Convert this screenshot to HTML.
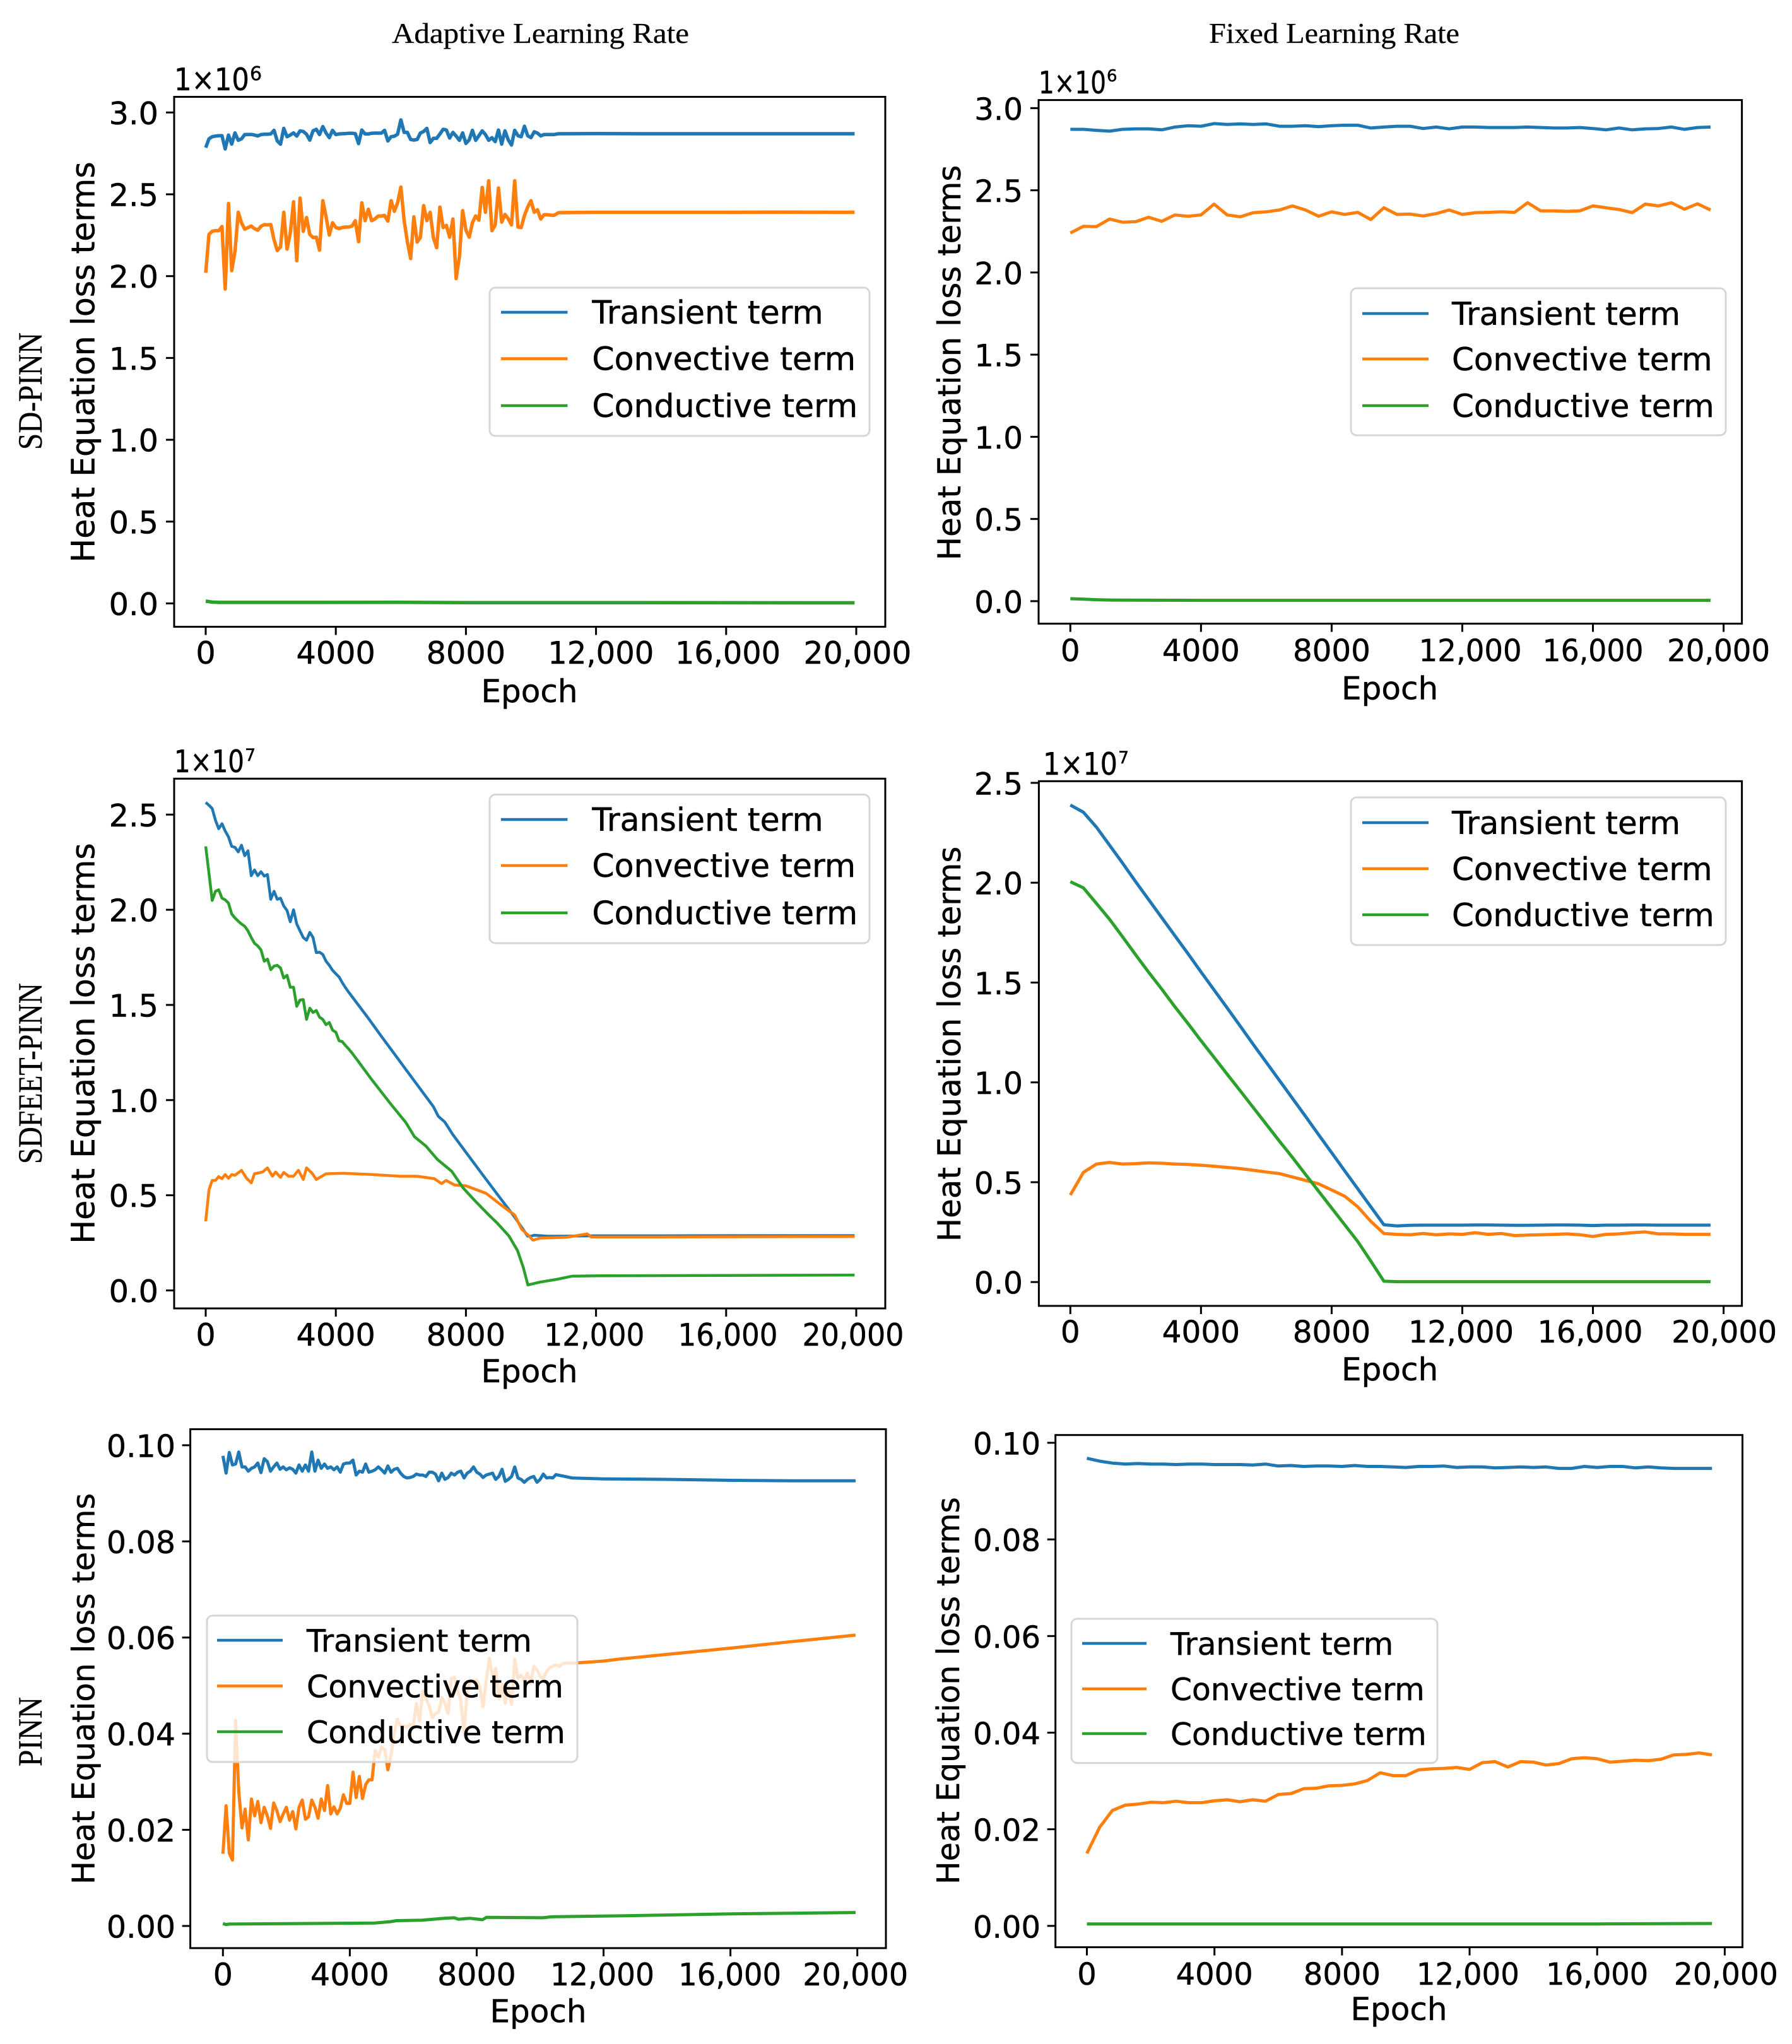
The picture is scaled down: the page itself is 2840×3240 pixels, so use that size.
<!DOCTYPE html>
<html lang="en">
<head>
<meta charset="utf-8">
<title>Heat equation loss terms</title>
<style>
html,body{margin:0;padding:0;background:#fff}
svg{display:block}
text{font-family:"DejaVu Sans",sans-serif;fill:#000;stroke:#000;stroke-width:.5px}
.serif{font-family:"Liberation Serif",serif;stroke-width:.3px}
</style>
</head>
<body>
<svg id="figure" xmlns="http://www.w3.org/2000/svg" width="2840" height="3240" viewBox="0 0 2840 3240">
<rect width="2840" height="3240" fill="#fff"/>
<text class="serif" x="621" y="68" font-size="46" textLength="471" lengthAdjust="spacingAndGlyphs">Adaptive Learning Rate</text>
<text class="serif" x="1916" y="68" font-size="46" textLength="397" lengthAdjust="spacingAndGlyphs">Fixed Learning Rate</text>
<text class="serif" transform="translate(66,713) rotate(-90)" font-size="54" textLength="186" lengthAdjust="spacingAndGlyphs">SD-PINN</text>
<text class="serif" transform="translate(66,1845) rotate(-90)" font-size="54" textLength="287" lengthAdjust="spacingAndGlyphs">SDFEET-PINN</text>
<text class="serif" transform="translate(66,2800) rotate(-90)" font-size="54" textLength="110" lengthAdjust="spacingAndGlyphs">PINN</text>
</svg>
<script>
// ---------- shared categories and tick labels ----------
const gridEpochs = [0,100,200,300,400,500,600,700,800,900,1000,1100,1200,1300,1400,1500,1600,1700,1800,1900,2000,2100,2200,2300,2400,2500,2600,2700,2800,2900,3000,3100,3200,3300,3400,3500,3600,3700,3800,3900,4000,4100,4200,4300,4400,4500,4600,4700,4800,4900,5000,5100,5200,5300,5400,5500,5600,5700,5800,5900,6000,6100,6200,6300,6400,6500,6600,6700,6800,6900,7000,7100,7200,7300,7400,7500,7600,7700,7800,7900,8000,8100,8200,8300,8400,8500,8600,8700,8800,8900,9000,9100,9200,9300,9400,9500,9600,9700,9800,9900,10000,10100,10200,10300,10400,10500,10600,10700,10800,10900,11000,11100];
const fixedEpochs = [0,400,800,1200,1600,2000,2400,2800,3200,3600,4000,4400,4800,5200,5600,6000,6400,6800,7200,7600,8000,8400,8800,9200,9600,10000,10400,10800,11200,11600,12000,12400,12800,13200,13600,14000,14400,14800,15200,15600,16000,16400,16800,17200,17600,18000,18400,18800,19200,19600];
const xTickValues = [0,4000,8000,12000,16000,20000];
const xTickLabels = ["0","4000","8000","12,000","16,000","20,000"];
const yTicksThree = [0,0.5,1,1.5,2,2.5,3];
const yTickLabelsThree = ["0.0","0.5","1.0","1.5","2.0","2.5","3.0"];
const yTicksTwoFive = [0,0.5,1,1.5,2,2.5];
const yTickLabelsTwoFive = ["0.0","0.5","1.0","1.5","2.0","2.5"];
const yTicksSmall = [0,0.02,0.04,0.06,0.08,0.10];
const yTickLabelsSmall = ["0.00","0.02","0.04","0.06","0.08","0.10"];
const seriesNames = ["Transient term","Convective term","Conductive term"];
const seriesColors = ["#1f77b4","#ff7f0e","#2ca02c"];

// ---------- SD-PINN, adaptive (units of 1e6) ----------
const sdAdaptiveTransient = [2.785,2.839,2.852,2.856,2.858,2.858,2.777,2.862,2.807,2.875,2.830,2.839,2.865,2.865,2.866,2.862,2.857,2.865,2.867,2.867,2.869,2.891,2.826,2.806,2.903,2.852,2.862,2.875,2.856,2.888,2.884,2.867,2.831,2.888,2.897,2.865,2.914,2.875,2.846,2.891,2.865,2.869,2.870,2.871,2.873,2.873,2.870,2.810,2.893,2.869,2.869,2.873,2.874,2.874,2.874,2.891,2.826,2.852,2.855,2.867,2.955,2.878,2.878,2.835,2.831,2.835,2.874,2.884,2.903,2.816,2.842,2.842,2.869,2.897,2.893,2.844,2.878,2.856,2.830,2.875,2.811,2.833,2.891,2.830,2.858,2.888,2.865,2.830,2.846,2.822,2.893,2.807,2.888,2.833,2.801,2.891,2.858,2.852,2.916,2.858,2.846,2.882,2.874,2.857,2.865];
const sdAdaptiveTransientLateEpochs = [10700,10850,12000,14000,16000,18000,19950];
const sdAdaptiveTransientLate = [2.865,2.870,2.871,2.870,2.870,2.870,2.870];
const sdAdaptiveConvective = [2.020,2.255,2.274,2.278,2.277,2.303,1.921,2.444,2.033,2.152,2.390,2.326,2.287,2.297,2.306,2.290,2.281,2.304,2.315,2.313,2.315,2.223,2.156,2.178,2.390,2.165,2.262,2.454,2.094,2.477,2.274,2.358,2.255,2.236,2.238,2.159,2.461,2.364,2.251,2.326,2.297,2.291,2.297,2.300,2.300,2.306,2.339,2.210,2.448,2.339,2.409,2.339,2.349,2.367,2.367,2.371,2.336,2.461,2.396,2.448,2.544,2.339,2.210,2.107,2.362,2.208,2.236,2.431,2.339,2.390,2.236,2.174,2.422,2.297,2.310,2.238,2.349,1.985,2.120,2.400,2.281,2.238,2.326,2.368,2.342,2.542,2.390,2.583,2.277,2.313,2.538,2.330,2.377,2.351,2.313,2.583,2.300,2.297,2.371,2.422,2.461,2.390,2.405,2.349,2.375,2.375];
const sdAdaptiveConvectiveLateEpochs = [10700,10850,12000,14000,16000,18000,19950];
const sdAdaptiveConvectiveLate = [2.371,2.388,2.390,2.390,2.390,2.391,2.390];
const sdAdaptiveConductiveEpochs = [0,200,400,2000,6000,8000,12000,19950];
const sdAdaptiveConductive = [0.014,0.008,0.006,0.006,0.007,0.005,0.005,0.004];

// ---------- SD-PINN, fixed (units of 1e6) ----------
const sdFixedTransient = [2.871,2.871,2.865,2.860,2.871,2.874,2.874,2.868,2.885,2.893,2.890,2.906,2.901,2.904,2.901,2.904,2.890,2.890,2.893,2.887,2.893,2.896,2.896,2.879,2.885,2.890,2.890,2.876,2.885,2.874,2.885,2.885,2.882,2.882,2.882,2.885,2.882,2.879,2.879,2.882,2.876,2.868,2.879,2.868,2.874,2.876,2.885,2.871,2.882,2.885];
const sdFixedConvective = [2.240,2.281,2.279,2.325,2.306,2.309,2.336,2.311,2.350,2.342,2.350,2.416,2.350,2.339,2.364,2.369,2.380,2.405,2.380,2.342,2.369,2.353,2.366,2.322,2.394,2.353,2.355,2.344,2.358,2.380,2.353,2.364,2.366,2.369,2.366,2.424,2.375,2.375,2.372,2.375,2.405,2.394,2.383,2.364,2.416,2.405,2.424,2.385,2.418,2.380];
const sdFixedConductiveEpochs = [0,400,800,1200,1600,4000,19600];
const sdFixedConductive = [0.015,0.012,0.009,0.007,0.006,0.005,0.005];

// ---------- SDFEET-PINN, adaptive (units of 1e7) ----------
const feetAdaptiveTransient = [2.564,2.549,2.532,2.470,2.426,2.452,2.414,2.383,2.333,2.328,2.304,2.339,2.284,2.310,2.179,2.209,2.179,2.200,2.177,2.185,2.055,2.097,2.055,2.061,2.020,1.996,1.937,2.000,1.925,1.889,1.854,1.840,1.881,1.854,1.775,1.777,1.765,1.730,1.708,1.682,1.664,1.647,1.617,1.590,1.566];
const feetAdaptiveTransientLateEpochs = [4600,5000,5400,5800,6200,6600,7000,7150,7350,7600,8000,8400,8800,9200,9500,9700,9900,10000,10100,10500,11000,12000,14000,16000,18000,19950];
const feetAdaptiveTransientLate = [1.521,1.430,1.335,1.243,1.150,1.058,0.966,0.915,0.885,0.818,0.726,0.634,0.543,0.452,0.385,0.335,0.285,0.285,0.290,0.285,0.285,0.287,0.287,0.288,0.288,0.288];
const feetAdaptiveConvectiveEpochs = [0,100,200,300,400,500,600,700,800,900,1100,1250,1400,1500,1750,1900,2050,2150,2300,2400,2550,2700,2850,3000,3100,3270,3400,3700,4220,5100,5980,6500,7030,7250,7390,7650,8000,8620,9150,9500,9710,9940,10060,10290,11080,11730,11850,14000,19950];
const feetAdaptiveConvective = [0.363,0.528,0.578,0.578,0.598,0.587,0.609,0.589,0.609,0.605,0.631,0.591,0.565,0.613,0.622,0.644,0.600,0.622,0.594,0.620,0.600,0.600,0.631,0.583,0.644,0.616,0.583,0.613,0.616,0.609,0.600,0.600,0.587,0.561,0.578,0.554,0.550,0.510,0.440,0.396,0.323,0.286,0.264,0.275,0.279,0.297,0.281,0.281,0.283];
const feetAdaptiveConductive = [2.333,2.191,2.049,2.097,2.105,2.061,2.052,2.035,1.978,1.957,1.940,1.925,1.913,1.889,1.854,1.824,1.810,1.789,1.730,1.741,1.685,1.704,1.708,1.694,1.641,1.656,1.593,1.593,1.493,1.526,1.528,1.424,1.483,1.460,1.471,1.436,1.424,1.396,1.408,1.368,1.357,1.312,1.307,1.286,1.268,1.247];
const feetAdaptiveConductiveLateEpochs = [4640,5050,5640,6150,6420,6772,7124,7564,7916,8267,8707,8971,9323,9587,9763,9904,10290,10818,11258,12137,19950];
const feetAdaptiveConductiveLate = [1.215,1.120,0.990,0.883,0.807,0.758,0.688,0.626,0.538,0.473,0.396,0.352,0.286,0.209,0.121,0.029,0.044,0.059,0.075,0.077,0.081];

// ---------- SDFEET-PINN, fixed (units of 1e7) ----------
const feetFixedTransient = [2.389,2.353,2.278,2.188,2.098,2.005,1.915,1.825,1.735,1.645,1.553,1.463,1.373,1.282,1.190,1.100,1.010,0.920,0.830,0.738,0.648,0.557,0.467,0.377,0.287,0.281,0.284,0.285,0.285,0.285,0.285,0.286,0.286,0.285,0.284,0.284,0.285,0.286,0.286,0.285,0.283,0.285,0.285,0.286,0.286,0.285,0.285,0.285,0.285,0.285];
const feetFixedConvective = [0.436,0.549,0.591,0.599,0.591,0.593,0.597,0.595,0.591,0.589,0.585,0.580,0.574,0.568,0.560,0.551,0.543,0.526,0.509,0.492,0.461,0.430,0.377,0.304,0.243,0.239,0.237,0.243,0.237,0.241,0.239,0.247,0.239,0.243,0.233,0.235,0.237,0.239,0.241,0.237,0.228,0.239,0.241,0.247,0.251,0.241,0.241,0.239,0.239,0.239];
const feetFixedConductive = [2.005,1.974,1.896,1.817,1.729,1.639,1.551,1.467,1.379,1.295,1.209,1.125,1.041,0.958,0.874,0.790,0.706,0.624,0.539,0.455,0.371,0.287,0.203,0.105,0.004];
const feetFixedConductiveLateEpochs = [10000,14000,19600];
const feetFixedConductiveLate = [0.002,0.002,0.002];

// ---------- PINN, adaptive ----------
const pinnAdaptiveTransient = [0.0978,0.0942,0.0985,0.0959,0.0961,0.0986,0.0955,0.0955,0.0946,0.0952,0.0955,0.0963,0.0943,0.0972,0.0966,0.0946,0.0955,0.0963,0.0950,0.0955,0.0949,0.0953,0.0950,0.0942,0.0959,0.0946,0.0959,0.0946,0.0986,0.0946,0.0969,0.0952,0.0961,0.0952,0.0955,0.0949,0.0955,0.0944,0.0961,0.0963,0.0963,0.0969,0.0938,0.0946,0.0944,0.0961,0.0944,0.0946,0.0949,0.0955,0.0949,0.0942,0.0957,0.0944,0.0950,0.0952,0.0942,0.0935,0.0932,0.0933,0.0935,0.0940,0.0938,0.0938,0.0935,0.0944,0.0944,0.0940,0.0926,0.0942,0.0929,0.0933,0.0942,0.0938,0.0944,0.0946,0.0932,0.0942,0.0946,0.0955,0.0944,0.0940,0.0933,0.0938,0.0940,0.0942,0.0929,0.0935,0.0950,0.0925,0.0929,0.0935,0.0955,0.0932,0.0929,0.0923,0.0929,0.0933,0.0935,0.0923,0.0929,0.0940,0.0932,0.0933,0.0932,0.0939];
const pinnAdaptiveTransientLateEpochs = [11000,12000,14000,16000,18000,19945];
const pinnAdaptiveTransientLate = [0.0932,0.0930,0.0929,0.0927,0.0926,0.0926];
const pinnAdaptiveConvective = [0.0150,0.0250,0.0151,0.0137,0.0428,0.0280,0.0204,0.0243,0.0179,0.0264,0.0229,0.0259,0.0215,0.0247,0.0229,0.0203,0.0256,0.0240,0.0217,0.0233,0.0247,0.0220,0.0238,0.0202,0.0247,0.0262,0.0222,0.0227,0.0262,0.0247,0.0224,0.0264,0.0240,0.0292,0.0233,0.0248,0.0233,0.0245,0.0273,0.0255,0.0255,0.0320,0.0267,0.0311,0.0265,0.0294,0.0304,0.0304,0.0365,0.0351,0.0372,0.0367,0.0325,0.0355,0.0402,0.0430,0.0416,0.0416,0.0414,0.0419,0.0416,0.0463,0.0426,0.0489,0.0473,0.0458,0.0433,0.0442,0.0445,0.0475,0.0463,0.0442,0.0515,0.0517,0.0491,0.0468,0.0402,0.0491,0.0510,0.0510,0.0512,0.0496,0.0456,0.0510,0.0557,0.0519,0.0536,0.0473,0.0503,0.0463,0.0496,0.0461,0.0555,0.0515,0.0522,0.0510,0.0526,0.0505,0.0540,0.0533,0.0519,0.0515,0.0529,0.0537,0.0540,0.0543,0.0540,0.0545,0.0547,0.0547,0.0547,0.0547];
const pinnAdaptiveConvectiveLateEpochs = [12000,12470,14000,16000,18000,19945];
const pinnAdaptiveConvectiveLate = [0.0551,0.0555,0.0565,0.0578,0.0592,0.0605];
const pinnAdaptiveConductiveEpochs = [0,100,200,4795,5293,5470,6270,6980,7291,7425,7780,8180,8313,10090,10355,12470,16000,19945];
const pinnAdaptiveConductive = [0.0005,0.0003,0.0004,0.0006,0.0009,0.0011,0.0012,0.0016,0.0017,0.0014,0.0016,0.0013,0.0018,0.0017,0.0019,0.0021,0.0025,0.0028];

// ---------- PINN, fixed ----------
const pinnFixedTransient = [0.0968,0.0962,0.0958,0.0956,0.0957,0.0956,0.0956,0.0955,0.0956,0.0956,0.0955,0.0955,0.0955,0.0954,0.0956,0.0952,0.0953,0.0951,0.0952,0.0952,0.0951,0.0953,0.0951,0.0951,0.0950,0.0949,0.0951,0.0951,0.0952,0.0949,0.0950,0.0950,0.0948,0.0949,0.0950,0.0949,0.0950,0.0947,0.0947,0.0951,0.0949,0.0951,0.0951,0.0948,0.0950,0.0948,0.0947,0.0947,0.0947,0.0947];
const pinnFixedConvective = [0.0150,0.0204,0.0239,0.0250,0.0252,0.0256,0.0255,0.0258,0.0255,0.0255,0.0259,0.0261,0.0257,0.0261,0.0258,0.0272,0.0274,0.0284,0.0285,0.0290,0.0291,0.0294,0.0301,0.0317,0.0311,0.0311,0.0323,0.0325,0.0326,0.0328,0.0324,0.0338,0.0340,0.0329,0.0340,0.0339,0.0333,0.0336,0.0346,0.0348,0.0346,0.0339,0.0341,0.0343,0.0342,0.0345,0.0354,0.0355,0.0358,0.0354];
const pinnFixedConductiveEpochs = [0,4000,8000,12000,16000,19600];
const pinnFixedConductive = [0.0004,0.0004,0.0004,0.0004,0.0004,0.0005];

// ---------- panel layout ----------
const panels = [
 {id:'sd-pinn-adaptive',box:[276,1403,153.5,993.5],x0:326,x20k:1357,y0:956.5,yUnit:259.4,lw:5.5,
  yTicks:yTicksThree,yLabels:yTickLabelsThree,tickFont:49.3,yLabelRight:251,xBase:1052,
  nudge:[0,0,0,7.7,2.7,2],widths:[0,0,0,168,167,171],
  epochX:839,epochBase:1113,ylabX:149.5,ylabY:574,ylabFont:50.5,
  offset:{main:'1×10',sup:'6',x:276,w:119,base:143,supX:396,supBase:127,supFont:30},
  legend:{x:776,y:456,w:602,h:235,lx1:794,lx2:899.5,tx:938.4,ys:[495,568.6,643],font:50.5},
  grid:gridEpochs,
  series:[{early:sdAdaptiveTransient,lateE:sdAdaptiveTransientLateEpochs,late:sdAdaptiveTransientLate},
          {early:sdAdaptiveConvective,lateE:sdAdaptiveConvectiveLateEpochs,late:sdAdaptiveConvectiveLate},
          {early:[],lateE:sdAdaptiveConductiveEpochs,late:sdAdaptiveConductive}]},
 {id:'sd-pinn-fixed',box:[1646,2760.6,158.6,988.6],x0:1696.3,x20k:2731.6,y0:952.9,yUnit:260.5,lw:5,
  yTicks:yTicksThree,yLabels:yTickLabelsThree,tickFont:48.3,yLabelRight:1621,xBase:1048,
  nudge:[0,0,0,12.7,0,-8],widths:[0,0,0,163,160,163],
  epochX:2202.6,epochBase:1108.6,ylabX:1522,ylabY:575,ylabFont:49.8,
  offset:{main:'1×10',sup:'6',x:1646,w:107,base:148,supX:1754,supBase:129,supFont:26},
  legend:{x:2141,y:457,w:594,h:233,lx1:2159,lx2:2264,tx:2301,ys:[497,569,643],font:49.9},
  grid:fixedEpochs,
  series:[{early:sdFixedTransient,lateE:[],late:[]},
          {early:sdFixedConvective,lateE:[],late:[]},
          {early:[],lateE:sdFixedConductiveEpochs,late:sdFixedConductive}]},
 {id:'sdfeet-pinn-adaptive',box:[276,1403,1234.3,2074],x0:326,x20k:1357,y0:2045.5,yUnit:301.7,lw:4.5,
  yTicks:yTicksTwoFive,yLabels:yTickLabelsTwoFive,tickFont:49.3,yLabelRight:251,xBase:2133,
  nudge:[0,0,0,-2.7,2.7,-5],widths:[0,0,0,159,158,161],
  epochX:839,epochBase:2191,ylabX:149.5,ylabY:1654,ylabFont:50.5,
  offset:{main:'1×10',sup:'7',x:276,w:111,base:1224,supX:388,supBase:1206,supFont:27},
  legend:{x:776,y:1259.5,w:602,h:235.5,lx1:794,lx2:899.5,tx:938.4,ys:[1299,1372,1447],font:50.5},
  grid:gridEpochs,
  series:[{early:feetAdaptiveTransient,lateE:feetAdaptiveTransientLateEpochs,late:feetAdaptiveTransientLate},
          {early:[],lateE:feetAdaptiveConvectiveEpochs,late:feetAdaptiveConvective},
          {early:feetAdaptiveConductive,lateE:feetAdaptiveConductiveLateEpochs,late:feetAdaptiveConductiveLate}]},
 {id:'sdfeet-pinn-fixed',box:[1646.4,2760.6,1238.3,2070],x0:1696.3,x20k:2731.6,y0:2032.2,yUnit:316.5,lw:5,
  yTicks:yTicksTwoFive,yLabels:yTickLabelsTwoFive,tickFont:48.5,yLabelRight:1621,xBase:2128,
  nudge:[0,0,0,-2,-4.5,1],widths:[0,0,0,167,167,167],
  epochX:2202.6,epochBase:2188,ylabX:1522,ylabY:1655,ylabFont:49.8,
  offset:{main:'1×10',sup:'7',x:1653,w:118,base:1228,supX:1772,supBase:1210,supFont:27},
  legend:{x:2141,y:1264,w:594,h:234,lx1:2159,lx2:2264,tx:2301,ys:[1304,1377,1450],font:49.9},
  grid:fixedEpochs,
  series:[{early:feetFixedTransient,lateE:[],late:[]},
          {early:feetFixedConvective,lateE:[],late:[]},
          {early:feetFixedConductive,lateE:feetFixedConductiveLateEpochs,late:feetFixedConductiveLate}]},
 {id:'pinn-adaptive',box:[301.6,1404,2265.5,3088],x0:353.3,x20k:1358.7,y0:3052.9,yUnit:7620,lw:5,
  yTicks:yTicksSmall,yLabels:yTickLabelsSmall,tickFont:49,yLabelRight:278,xBase:3147,
  nudge:[0,0,0,-2,-1,-3],widths:[0,0,0,165,163,167],
  epochX:853,epochBase:3205.7,ylabX:149.5,ylabY:2677,ylabFont:49.3,
  offset:null,
  legend:{x:328,y:2561,w:587,h:232,lx1:344,lx2:448,tx:486,ys:[2600,2672.5,2745],font:49.2},
  grid:gridEpochs,
  series:[{early:pinnAdaptiveTransient,lateE:pinnAdaptiveTransientLateEpochs,late:pinnAdaptiveTransientLate},
          {early:pinnAdaptiveConvective,lateE:pinnAdaptiveConvectiveLateEpochs,late:pinnAdaptiveConvectiveLate},
          {early:[],lateE:pinnAdaptiveConductiveEpochs,late:pinnAdaptiveConductive}]},
 {id:'pinn-fixed',box:[1672.7,2761.5,2274.7,3086.6],x0:1722.5,x20k:2733.4,y0:3052.8,yUnit:7658,lw:5,
  yTicks:yTicksSmall,yLabels:yTickLabelsSmall,tickFont:48,yLabelRight:1649,xBase:3146,
  nudge:[0,0,0,-2.7,0,2],widths:[0,0,0,163,162,165],
  epochX:2217,epochBase:3202,ylabX:1520,ylabY:2680,ylabFont:48.8,
  offset:null,
  legend:{x:1698,y:2566,w:580,h:228.5,lx1:1715,lx2:1817,tx:1855,ys:[2605,2677,2748],font:48.7},
  grid:fixedEpochs,
  series:[{early:pinnFixedTransient,lateE:[],late:[]},
          {early:pinnFixedConvective,lateE:[],late:[]},
          {early:[],lateE:pinnFixedConductiveEpochs,late:pinnFixedConductive}]}
];

const NS = 'http://www.w3.org/2000/svg';
const figure = document.getElementById('figure');
function make(tag, parent, attrs, content){
  const node = document.createElementNS(NS, tag);
  for (const k in attrs) node.setAttribute(k, attrs[k]);
  if (content !== undefined) node.textContent = content;
  parent.appendChild(node);
  return node;
}

panels.forEach(function(p){
  const xScale = e => p.x0 + e / 20000 * (p.x20k - p.x0);
  const yScale = v => p.y0 - v * p.yUnit;
  const [L,R,T,B] = p.box;

  const g = make('g', figure, {});
  
  

  // series
  p.series.forEach(function(s, i){
    const pts = s.early.map((v, k) => [p.grid[k], v]).concat(s.lateE.map((e, k) => [e, s.late[k]]));
    const d = pts.map((q, k) => (k ? 'L' : 'M') + xScale(q[0]).toFixed(1) + ' ' + yScale(q[1]).toFixed(1)).join('');
    const line = make('path', g, {d:d, fill:'none', stroke:seriesColors[i], 'stroke-width':p.lw, 'stroke-linejoin':'round', 'stroke-linecap':'butt'});
    
    
  });

  // spines
  const frame = make('rect', g, {x:L, y:T, width:R-L, height:B-T, fill:'none', stroke:'#000', 'stroke-width':3});
  
  

  // x ticks
  xTickValues.forEach(function(v, i){
    const x = xScale(v);
    const mark = make('line', g, {x1:x, x2:x, y1:B, y2:B+13, stroke:'#000', 'stroke-width':3});
    
    
    const attrs = {x:x + p.nudge[i], y:p.xBase, 'font-size':p.tickFont, 'text-anchor':'middle'};
    if (p.widths[i]) { attrs.textLength = p.widths[i]; attrs.lengthAdjust = 'spacingAndGlyphs'; }
    const label = make('text', g, attrs, xTickLabels[i]);
    
    
  });

  // y ticks
  p.yTicks.forEach(function(v, i){
    const y = yScale(v);
    const mark = make('line', g, {x1:L-13, x2:L, y1:y, y2:y, stroke:'#000', 'stroke-width':3});
    
    
    const label = make('text', g, {x:p.yLabelRight, y:y+18.5, 'font-size':p.tickFont, 'text-anchor':'end'}, p.yLabels[i]);
    
    
  });

  // axis titles
  const xTitle = make('text', g, {x:p.epochX, y:p.epochBase, 'font-size':50, 'text-anchor':'middle'}, 'Epoch');
  
  
  const yTitle = make('text', g, {transform:'translate(' + p.ylabX + ',' + p.ylabY + ') rotate(-90)', 'font-size':p.ylabFont, 'text-anchor':'middle'}, 'Heat Equation loss terms');
  
  

  // scale offset
  if (p.offset) {
    const o = p.offset;
    const main = make('text', g, {x:o.x, y:o.base, 'font-size':49, textLength:o.w, lengthAdjust:'spacingAndGlyphs'}, o.main);
    
    
    const sup = make('text', g, {x:o.supX, y:o.supBase, 'font-size':o.supFont}, o.sup);
    
    
  }

  // legend
  const lg = p.legend;
  const legend = make('g', g, {});
  
  
  const legendBox = make('rect', legend, {x:lg.x, y:lg.y, width:lg.w, height:lg.h, rx:9, ry:9, fill:'#fff', 'fill-opacity':0.8, stroke:'#d6d6d6', 'stroke-width':3});
  
  
  seriesNames.forEach(function(name, i){
    const swatch = make('line', legend, {x1:lg.lx1, x2:lg.lx2, y1:lg.ys[i], y2:lg.ys[i], stroke:seriesColors[i], 'stroke-width':4.6});
    
    
    const entry = make('text', legend, {x:lg.tx, y:lg.ys[i]+18, 'font-size':lg.font}, name);
    
    
  });
});
</script>
</body>
</html>
